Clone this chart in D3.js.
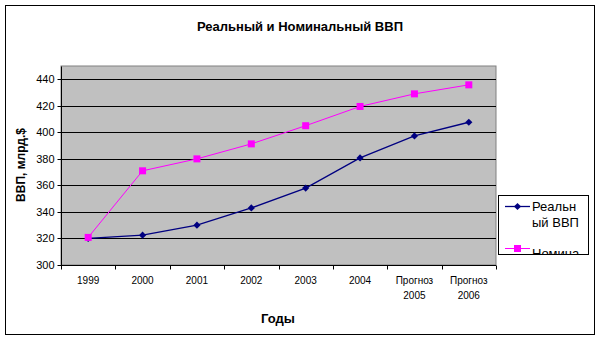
<!DOCTYPE html>
<html>
<head>
<meta charset="utf-8">
<script src="https://cdn.jsdelivr.net/npm/d3@7"></script>
<style>
  body { margin: 0; background: #fff; }
  svg { font-family: "Liberation Sans", Arial, sans-serif; }
</style>
</head>
<body>
<svg id="chart" width="600" height="340"></svg>
<script>
// data
const categories = ["1999", "2000", "2001", "2002", "2003", "2004", "Прогноз 2005", "Прогноз 2006"];
const realGdp = [320, 322.5, 330, 343, 358, 380.7, 397.3, 407.6];
const nominalGdp = [320.8, 371, 380, 391.3, 405, 419.5, 429, 435.8];
const yTicks = [300, 320, 340, 360, 380, 400, 420, 440];
const legendLines = [["Реальн", "ый ВВП"], ["Номина"]];

const svg = d3.select("#chart");
const plot = { left: 61, right: 496, top: 66, bottom: 265 };

// outer frame
svg.append("rect")
    .attr("x", 5.5).attr("y", 5.5)
    .attr("width", 589).attr("height", 329)
    .attr("fill", "#fff").attr("stroke", "#000");

// title
svg.append("text")
    .attr("x", 300).attr("y", 31)
    .attr("text-anchor", "middle")
    .style("font-size", "13px").style("font-weight", "bold")
    .text("Реальный и Номинальный ВВП");

// scales
const x = d3.scaleBand().domain(categories).range([plot.left, plot.right]);
const y = d3.scaleLinear().domain([300, 450]).range([plot.bottom, plot.top]);

// plot background
svg.append("rect")
    .attr("x", plot.left).attr("y", plot.top)
    .attr("width", plot.right - plot.left).attr("height", plot.bottom - plot.top)
    .attr("fill", "#c0c0c0").attr("stroke", "#808080");

// gridlines
svg.append("g")
    .selectAll("line")
    .data(yTicks.slice(1))
    .enter().append("line")
    .attr("x1", plot.left).attr("x2", plot.right)
    .attr("y1", (d) => Math.round(y(d)) + 0.5).attr("y2", (d) => Math.round(y(d)) + 0.5)
    .attr("stroke", "#000");

// y axis
const yAxis = svg.append("g")
    .attr("transform", "translate(" + (plot.left + 0.5) + ",0.5)")
    .call(d3.axisLeft(y).tickValues(yTicks).tickSize(4).tickPadding(3));
yAxis.select(".domain").attr("d", "M0," + Math.round(plot.top) + "V" + Math.round(plot.bottom));
yAxis.selectAll("text").style("font-size", "11px").attr("fill", "#000");
yAxis.selectAll(".tick").attr("transform", (d) => "translate(0," + Math.round(y(d)) + ")");

// x axis: tick marks at category boundaries
const xAxis = svg.append("g").attr("transform", "translate(0," + (plot.bottom + 0.5) + ")");
xAxis.append("line")
    .attr("x1", plot.left).attr("x2", plot.right)
    .attr("stroke", "#000");
xAxis.selectAll(".tk")
    .data(categories.concat([null]))
    .enter().append("line")
    .attr("x1", (d, i) => Math.round(plot.left + i * x.step()) + 0.5)
    .attr("x2", (d, i) => Math.round(plot.left + i * x.step()) + 0.5)
    .attr("y1", 0).attr("y2", 4)
    .attr("stroke", "#000");
const xLabels = xAxis.selectAll(".lbl")
    .data(categories)
    .enter().append("text")
    .attr("text-anchor", "middle")
    .attr("x", (d) => x(d) + x.bandwidth() / 2)
    .style("font-size", "10px");
xLabels.each(function (d) {
    const parts = d.split(" ");
    d3.select(this).selectAll("tspan")
        .data(parts)
        .enter().append("tspan")
        .attr("x", x(d) + x.bandwidth() / 2)
        .attr("y", (p, i) => 18 + i * 15)
        .text((p) => p);
});

// axis titles
svg.append("text")
    .attr("x", 278).attr("y", 323)
    .attr("text-anchor", "middle")
    .style("font-size", "13px").style("font-weight", "bold")
    .text("Годы");
svg.append("text")
    .attr("transform", "translate(25,165) rotate(-90)")
    .attr("text-anchor", "middle")
    .style("font-size", "12px").style("font-weight", "bold")
    .text("ВВП, млрд.$");

// lines
const line = d3.line()
    .x((d, i) => x(categories[i]) + x.bandwidth() / 2)
    .y((d) => y(d));

svg.append("path").datum(nominalGdp)
    .attr("d", line).attr("fill", "none").attr("stroke", "#ff00ff").attr("stroke-width", 1);
svg.append("path").datum(realGdp)
    .attr("d", line).attr("fill", "none").attr("stroke", "#000080").attr("stroke-width", 1.3);

// diamond marker: square turned 45 degrees
const diamond = d3.symbol().type(d3.symbolSquare).size(26);

svg.append("g").selectAll("path")
    .data(realGdp)
    .enter().append("path")
    .attr("d", diamond)
    .attr("transform", (d, i) => "translate(" + (x(categories[i]) + x.bandwidth() / 2) + "," + y(d) + ") rotate(45)")
    .attr("fill", "#000080");

svg.append("g").selectAll("rect")
    .data(nominalGdp)
    .enter().append("rect")
    .attr("x", (d, i) => x(categories[i]) + x.bandwidth() / 2 - 3.5)
    .attr("y", (d) => y(d) - 3.5)
    .attr("width", 7).attr("height", 7)
    .attr("fill", "#ff00ff");

// legend (bottom row clipped by its box, as in the original)
const lg = { x: 498, y: 195, w: 90, h: 59 };
svg.append("clipPath").attr("id", "lgclip")
    .append("rect").attr("x", lg.x).attr("y", lg.y).attr("width", lg.w).attr("height", lg.h);
svg.append("rect")
    .attr("x", lg.x + 0.5).attr("y", lg.y + 0.5)
    .attr("width", lg.w).attr("height", lg.h)
    .attr("fill", "#fff").attr("stroke", "#000");
const lgBody = svg.append("g").attr("clip-path", "url(#lgclip)");

// row 1: real
lgBody.append("line")
    .attr("x1", 505).attr("x2", 530).attr("y1", 206.5).attr("y2", 206.5)
    .attr("stroke", "#000080").attr("stroke-width", 1.3);
lgBody.append("path").attr("d", diamond)
    .attr("transform", "translate(517.5,206.5) rotate(45)").attr("fill", "#000080");
lgBody.append("text").attr("x", 532).attr("y", 211)
    .style("font-size", "13px").text(legendLines[0][0]);
lgBody.append("text").attr("x", 532).attr("y", 227)
    .style("font-size", "13px").text(legendLines[0][1]);

// row 2: nominal
lgBody.append("line")
    .attr("x1", 505).attr("x2", 530).attr("y1", 248.5).attr("y2", 248.5)
    .attr("stroke", "#ff00ff");
lgBody.append("rect").attr("x", 514).attr("y", 245).attr("width", 7).attr("height", 7)
    .attr("fill", "#ff00ff");
lgBody.append("text").attr("x", 532).attr("y", 258)
    .style("font-size", "13px").text(legendLines[1][0]);
</script>
</body>
</html>
